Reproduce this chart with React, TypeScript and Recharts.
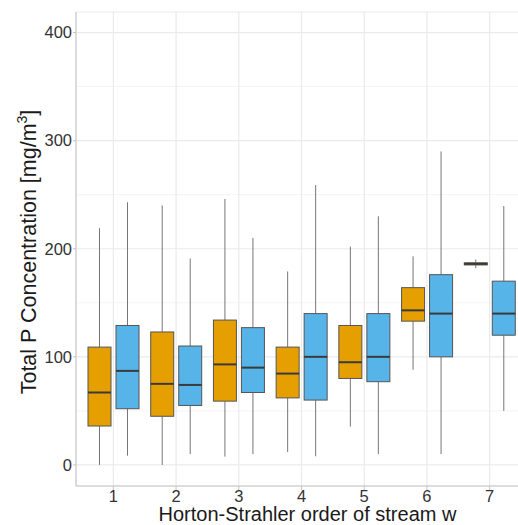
import React from 'react';
import { ComposedChart, Bar, XAxis, YAxis, CartesianGrid } from 'recharts';

const categories = ['1', '2', '3', '4', '5', '6', '7'];

// orange series (first group)
const orangeMin = [0, 0, 7.7, 12, 35.5, 88, 182];
const orangeQ1 = [36, 45, 59, 62, 80, 133, 185];
const orangeMed = [67, 75, 93, 84.5, 95, 143, 186];
const orangeQ3 = [109, 123, 134, 109, 129, 164, 187];
const orangeMax = [219, 240, 246, 179, 202, 193, 190];

// blue series (second group)
const blueMin = [8.6, 10, 10, 8, 10, 10, 50];
const blueQ1 = [52, 55, 67, 60, 77, 100, 120];
const blueMed = [87, 74, 90, 100, 100, 140, 140];
const blueQ3 = [129, 110, 127, 140, 140, 176, 170];
const blueMax = [243, 191, 210, 259, 230, 290, 239.5];

const yTicks = [0, 100, 200, 300, 400];
const yMinorTicks = [50, 150, 250, 350];

const data = categories.map((c, i) => ({
  cat: c,
  o: [orangeMin[i], orangeMax[i]],
  oStats: [orangeMin[i], orangeQ1[i], orangeMed[i], orangeQ3[i], orangeMax[i]],
  b: [blueMin[i], blueMax[i]],
  bStats: [blueMin[i], blueQ1[i], blueMed[i], blueQ3[i], blueMax[i]],
}));

const makeBox = (fill: string, statsKey: 'oStats' | 'bStats') => (props: any) => {
  const { x, y, width, height, payload } = props;
  const [lo, q1, med, q3, hi] = payload[statsKey];
  const top = Math.min(y, y + height);
  const h = Math.abs(height);
  // pixel position inside the min..max extent that the scale gave us
  const py = (v: number) => top + (h * (hi - v)) / (hi - lo);
  const cx = x + width / 2;
  return (
    <g>
      <line x1={cx} x2={cx} y1={py(hi)} y2={py(q3)} stroke="#666" strokeWidth={0.9} />
      <line x1={cx} x2={cx} y1={py(q1)} y2={py(lo)} stroke="#666" strokeWidth={0.9} />
      <rect x={x} y={py(q3)} width={width} height={Math.max(py(q1) - py(q3), 0.5)} fill={fill} stroke="#555" strokeWidth={1} />
      <line x1={x} x2={x + width} y1={py(med)} y2={py(med)} stroke="#3a3a3a" strokeWidth={2} />
    </g>
  );
};

const YTitle = () => (
  <text
    x={0}
    y={0}
    transform="translate(36,252) rotate(-90)"
    textAnchor="middle"
    fontSize={21.5}
    fill="#1a1a1a"
  >
    Total P Concentration [mg/m
    <tspan fontSize={14} dy={-9}>3</tspan>
    <tspan dy={9}>]</tspan>
  </text>
);

export default function App() {
  return (
    <div
      style={{
        position: 'absolute',
        left: 0,
        top: 0,
        width: 518,
        height: 525,
        overflow: 'hidden',
        background: '#fff',
        fontFamily: '"Liberation Sans", Arial, sans-serif',
      }}
    >
      <ComposedChart
        width={540}
        height={525}
        data={data}
        margin={{ top: 12, right: 13, bottom: 0, left: 8 }}
        barSize={23}
        barGap={5}
      >
        <CartesianGrid horizontalValues={yMinorTicks} vertical={false} stroke="#f4f4f4" strokeWidth={1} />
        <CartesianGrid stroke="#ebebeb" strokeWidth={1.2} />
        <XAxis
          dataKey="cat"
          padding={{ left: 6, right: 6 }}
          height={39}
          tickSize={4}
          tickMargin={0}
          stroke="#c4c4c4"
          tick={{ fill: '#333', fontSize: 16.5 }}
          label={{ value: 'Horton-Strahler order of stream w', position: 'insideBottom', offset: 4, fill: '#1a1a1a', fontSize: 20, dx: 6 }}
        />
        <XAxis xAxisId="top" dataKey="cat" orientation="top" height={0} tick={false} tickLine={false} stroke="#dcdcdc" />
        <YAxis
          type="number"
          domain={[-19.5, 419]}
          ticks={yTicks}
          width={68}
          tickSize={3}
          tickMargin={1}
          stroke="#c4c4c4"
          tick={{ fill: '#333', fontSize: 16.5 }}
          label={<YTitle />}
          allowDataOverflow
        />
        <Bar dataKey="o" fill="#E69F00" shape={makeBox('#E69F00', 'oStats')} isAnimationActive={false} />
        <Bar dataKey="b" fill="#56B4E9" shape={makeBox('#56B4E9', 'bStats')} isAnimationActive={false} />
      </ComposedChart>
    </div>
  );
}
